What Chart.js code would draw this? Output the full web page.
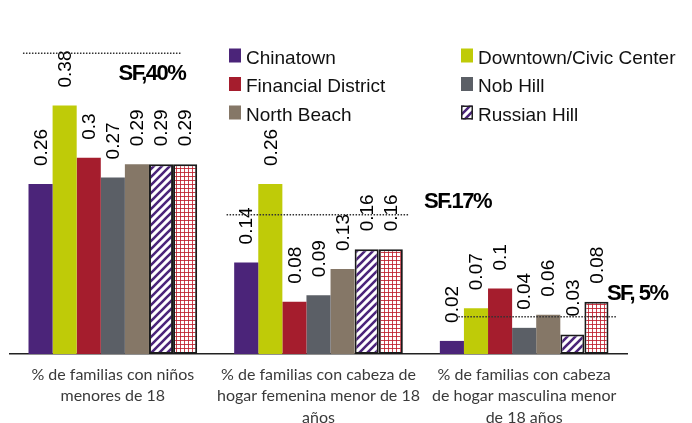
<!DOCTYPE html>
<html>
<head>
<meta charset="utf-8">
<script src="https://cdn.jsdelivr.net/npm/chart.js@4/dist/chart.umd.min.js"></script>
<style>
    html, body { margin: 0; padding: 0; background: #fff; }
    #wrap { width: 692px; height: 423px; position: relative; }
</style>
</head>
<body>
<div id="wrap"><canvas id="famChart"></canvas></div>
<script>
const categories = [
    ['% de familias con niños', 'menores de 18'],
    ['% de familias con cabeza de', 'hogar femenina menor de 18', 'años'],
    ['% de familias con cabeza', 'de hogar masculina menor', 'de 18 años']
];

const seriesNames = ['Chinatown', 'Downtown/Civic Center', 'Financial District', 'Nob Hill', 'North Beach', 'Russian Hill', ''];

const chinatown = [0.26, 0.14, 0.02];
const downtown = [0.38, 0.26, 0.07];
const financialDistrict = [0.3, 0.08, 0.1];
const nobHill = [0.27, 0.09, 0.04];
const northBeach = [0.29, 0.13, 0.06];
const russianHill = [0.29, 0.16, 0.03];
const seventhSeries = [0.29, 0.16, 0.08];

// San Francisco reference lines (level as drawn in the picture) and their labels
const sfLabels = ['SF,40%', 'SF.17%', 'SF, 5%'];
const sfLevels = [0.46, 0.213, 0.057];

function stripePattern() {
    const c = document.createElement('canvas');
    c.width = 8; c.height = 8;
    const g = c.getContext('2d');
    g.fillStyle = '#fff';
    g.fillRect(0, 0, 8, 8);
    g.strokeStyle = '#4b2479';
    g.lineWidth = 2.6;
    g.beginPath();
    g.moveTo(-2, 2); g.lineTo(2, -2);
    g.moveTo(0, 8); g.lineTo(8, 0);
    g.moveTo(6, 10); g.lineTo(10, 6);
    g.stroke();
    return g.createPattern(c, 'repeat');
}

function gridPattern() {
    const c = document.createElement('canvas');
    c.width = 4; c.height = 4;
    const g = c.getContext('2d');
    g.fillStyle = '#fff';
    g.fillRect(0, 0, 4, 4);
    g.fillStyle = 'rgba(190, 30, 45, 0.85)';
    g.fillRect(0, 0, 4, 1);
    g.fillRect(0, 0, 1, 4);
    return g.createPattern(c, 'repeat');
}

const stripes = stripePattern();
const grid = gridPattern();

const fills = ['#4b2479', '#bfcb08', '#a51d2d', '#5b5f66', '#857767', stripes, grid];
const seriesValues = [chinatown, downtown, financialDistrict, nobHill, northBeach, russianHill, seventhSeries];

const valueLabels = {
    id: 'valueLabels',
    afterDatasetsDraw(chart) {
        const ctx = chart.ctx;
        ctx.save();
        ctx.font = '19px "Liberation Sans", Arial, sans-serif';
        ctx.fillStyle = '#000';
        ctx.textAlign = 'left';
        ctx.textBaseline = 'middle';
        chart.data.datasets.forEach((ds, i) => {
            const meta = chart.getDatasetMeta(i);
            meta.data.forEach((bar, j) => {
                ctx.save();
                ctx.translate(bar.x + 1, bar.y - 18);
                ctx.rotate(-Math.PI / 2);
                ctx.fillText(String(ds.data[j]), 0, 0);
                ctx.restore();
            });
        });
        ctx.restore();
    }
};

const sfLines = {
    id: 'sfLines',
    afterDatasetsDraw(chart, args, opts) {
        const ctx = chart.ctx;
        const x = chart.scales.x;
        const y = chart.scales.y;
        ctx.save();
        sfLevels.forEach((level, i) => {
            const py = y.getPixelForValue(level);
            ctx.strokeStyle = '#333';
            ctx.lineWidth = 1.5;
            ctx.setLineDash([1.5, 1.5]);
            ctx.beginPath();
            ctx.moveTo(x.getPixelForValue(i + opts.from[i]), py);
            ctx.lineTo(x.getPixelForValue(i + opts.to[i]), py);
            ctx.stroke();

            ctx.setLineDash([]);
            ctx.font = 'bold 22px "Liberation Sans", Arial, sans-serif';
            ctx.letterSpacing = '-1.5px';
            ctx.fillStyle = '#000';
            ctx.textAlign = 'center';
            ctx.textBaseline = 'middle';
            ctx.fillText(sfLabels[i], x.getPixelForValue(i + opts.labelAt[i][0]), y.getPixelForValue(opts.labelAt[i][1]));
        });
        ctx.restore();
    }
};

const boxLegend = {
    id: 'boxLegend',
    afterDraw(chart, args, opts) {
        const ctx = chart.ctx;
        ctx.save();
        ctx.font = '19px "Liberation Sans", Arial, sans-serif';
        ctx.textAlign = 'left';
        ctx.textBaseline = 'alphabetic';
        for (let i = 0; i < 6; i++) {
            const col = i % 2;
            const row = Math.floor(i / 2);
            const bx = opts.columns[col];
            const by = opts.baselines[row];
            ctx.fillStyle = fills[i];
            ctx.fillRect(bx, by - 15, 12, 14);
            if (i === 5) {
                ctx.strokeStyle = '#222';
                ctx.lineWidth = 1.5;
                ctx.strokeRect(bx + 0.75, by - 14.25, 10.5, 12.5);
            }
            ctx.fillStyle = '#111';
            ctx.fillText(seriesNames[i], bx + 17, by);
        }
        ctx.restore();
    }
};

function initChart() {
    const ctx = document.getElementById('famChart').getContext('2d');

    const datasets = seriesValues.map((vals, i) => ({
        label: seriesNames[i],
        data: vals,
        backgroundColor: fills[i],
        borderColor: i >= 5 ? '#1a1a1a' : fills[i],
        borderWidth: i >= 5 ? 2 : 0,
        borderSkipped: false,
        barPercentage: 1.0,
        categoryPercentage: 0.82
    }));

    new Chart(ctx, {
        type: 'bar',
        data: {
            labels: categories,
            datasets: datasets
        },
        options: {
            responsive: true,
            maintainAspectRatio: false,
            animation: false,
            layout: {
                padding: { left: 10, right: 65, top: 27, bottom: 0 }
            },
            plugins: {
                legend: { display: false },
                tooltip: { enabled: false },
                sfLines: {
                    from: [-0.437, -0.447, -0.32],
                    to: [0.33, 0.437, 0.452],
                    labelAt: [[0.19, 0.428], [0.676, 0.232], [0.55, 0.092]]
                },
                boxLegend: {
                    columns: [229, 461],
                    baselines: [63.5, 92, 120.5]
                }
            },
            scales: {
                x: {
                    grid: { display: false },
                    border: { display: true, color: '#222', width: 1.5 },
                    ticks: {
                        color: '#3a3a3a',
                        padding: 2,
                        maxRotation: 0,
                        autoSkip: false,
                        font: {
                            family: 'Lato, "Open Sans", sans-serif',
                            size: 16,
                            lineHeight: '21.5px'
                        }
                    },
                    afterFit: function(scale) {
                        scale.height = 69;
                    }
                },
                y: {
                    display: false,
                    min: 0,
                    max: 0.5
                }
            }
        },
        plugins: [valueLabels, sfLines, boxLegend]
    });
}

document.addEventListener('DOMContentLoaded', initChart);
</script>
</body>
</html>
